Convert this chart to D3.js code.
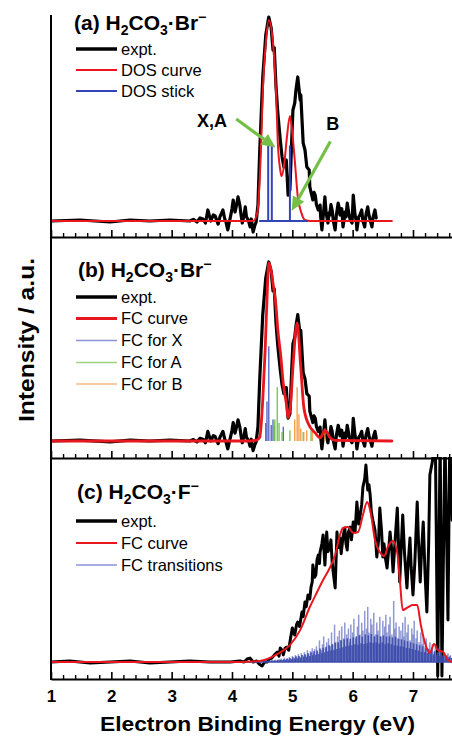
<!DOCTYPE html>
<html><head><meta charset="utf-8">
<script src="https://cdn.jsdelivr.net/npm/d3@7"></script>
<style>
body{margin:0;background:#fff}
svg{display:block}
text{font-family:Arial,"Liberation Sans",Helvetica,sans-serif;fill:#000}
</style>
</head><body>
<svg id="chart" width="452" height="738"></svg>
<script>
// ---------------- DATA ----------------
// (a),(b) experimental spectrum of H2CO3·Br- (normalised intensity)
const exptBr_E = [1.00,1.48,1.98,2.31,2.64,2.97,3.30,3.36,3.42,3.47,3.52,3.56,3.60,3.63,3.65,3.69,3.72,3.75,3.77,3.80,3.82,3.85,3.88,3.90,3.93,3.96,3.98,4.00,4.02,4.05,4.07,4.10,4.13,4.15,4.17,4.20,4.22,4.24,4.27,4.30,4.32,4.35,4.38,4.40,4.43,4.46,4.51,4.56,4.60,4.61,4.65,4.68,4.70,4.73,4.76,4.80,4.83,4.86,4.90,4.93,4.96,4.99,5.01,5.04,5.06,5.09,5.13,5.14,5.18,5.21,5.24,5.28,5.29,5.34,5.36,5.38,5.40,5.43,5.46,5.47,5.49,5.52,5.54,5.56,5.59,5.61,5.62,5.64,5.66,5.68,5.71,5.73,5.76,5.78,5.79,5.82,5.84,5.86,5.87,5.89,5.91,5.94,5.96,5.99,6.01,6.03,6.04,6.06,6.07,6.10,6.12,6.15,6.17,6.20,6.22,6.25,6.27,6.29,6.32,6.34,6.37,6.39];
const exptBr_I = [0,0.005,-0.005,0.005,0,0.005,0,0.008,-0.005,0.015,0.01,-0.01,0.054,0.02,0,0.03,0.025,0,-0.015,0.02,0.034,0.054,0.01,-0.005,-0.044,0,0.029,0.06,0.103,0.044,0.07,0.118,0.078,0.03,-0.01,0.03,0.069,0.02,0.005,-0.029,0.01,-0.054,-0.02,-0.005,0.078,0.348,0.706,0.912,0.985,1.0,0.946,0.838,0.85,0.657,0.529,0.397,0.314,0.265,0.299,0.127,0.152,0.397,0.544,0.578,0.642,0.706,0.593,0.618,0.382,0.348,0.265,0.25,0.167,0.103,0.14,0.127,0.08,0.054,0.078,0.02,-0.044,0.05,0.118,0.04,-0.01,0.04,0.029,0.08,0.054,0,-0.044,0.03,0.088,0.06,0.029,0.06,-0.029,0.01,0.044,0.02,0.088,0.03,0.005,-0.01,0.127,0.06,0.029,0,-0.044,0.02,0.029,0.054,0,-0.029,0.03,0.069,0.03,0.005,-0.029,0.02,0.054,0.015];

// (a) DOS curve and sticks
const dosCurve_E = [1.00,4.35,4.42,4.45,4.48,4.51,4.56,4.61,4.68,4.73,4.76,4.80,4.82,4.86,4.91,4.96,4.99,5.04,5.09,5.15,5.21,5.30,6.65];
const dosCurve_I = [0,0,0.04,0.15,0.35,0.63,0.87,0.985,0.87,0.63,0.38,0.25,0.22,0.265,0.41,0.515,0.46,0.30,0.12,0.04,0.005,0,0];
const dosStick_E = [4.60,4.66,4.96];
const dosStick_I = [0.37,0.37,0.37];
const dosStickRange = [4.45,5.26];

// (b) FC curve and FC sticks
const fcCurveBr_E = [1.00,4.30,4.41,4.46,4.51,4.55,4.58,4.61,4.65,4.68,4.73,4.76,4.81,4.85,4.90,4.93,4.97,5.01,5.08,5.14,5.19,5.26,5.38,5.46,5.54,5.63,5.71,6.65];
const fcCurveBr_I = [0,0,0.005,0.02,0.23,0.51,0.79,0.995,0.95,0.88,0.75,0.62,0.47,0.32,0.21,0.13,0.2,0.41,0.66,0.41,0.19,0.10,0.045,0.017,0.06,0.017,0.003,0];
const fcX_E = [4.56,4.58,4.61,4.65,4.68,4.85];
const fcX_I = [0.10,0.22,0.53,0.09,0.12,0.08];
const fcA_E = [4.70,4.71,4.75,4.78,4.83,4.96,5.18,5.31];
const fcA_I = [0.09,0.12,0.30,0.10,0.05,0.06,0.05,0.06];
const fcB_E = [5.04,5.08,5.11,5.14,5.19,5.24,5.33,5.54];
const fcB_I = [0.12,0.30,0.15,0.07,0.05,0.06,0.05,0.07];

// (c) experimental spectrum of H2CO3·F-
const exptF_E = [1.00,1.31,1.65,1.98,2.31,2.64,2.97,3.30,3.63,3.97,4.13,4.20,4.25,4.30,4.35,4.41,4.45,4.50,4.54,4.58,4.62,4.66,4.70,4.75,4.78,4.80,4.83,4.85,4.88,4.91,4.94,4.97,5.00,5.02,5.04,5.07,5.09,5.12,5.16,5.18,5.21,5.23,5.26,5.29,5.31,5.33,5.34,5.37,5.39,5.41,5.43,5.45,5.46,5.49,5.51,5.54,5.57,5.59,5.62,5.64,5.66,5.68,5.71,5.74,5.76,5.79,5.81,5.84,5.87,5.89,5.91,5.93,5.96,5.98,6.01,6.04,6.07,6.10,6.12,6.15,6.17,6.20,6.22,6.25,6.27,6.29,6.31,6.34,6.37,6.40,6.43,6.45,6.48,6.50,6.52,6.54,6.57,6.60,6.62,6.65,6.67,6.70,6.74,6.76,6.78,6.80,6.83,6.86,6.90,6.92,6.95,6.97,7.00,7.03,7.07,7.09,7.12,7.14,7.17,7.20,7.23,7.26,7.28,7.32,7.37,7.41,7.45,7.48,7.53,7.58,7.61,7.65];
const exptF_I = [0,0.005,-0.005,0,0.005,-0.005,0,0.005,0,0,0.005,0,0.015,0.02,0,0.005,-0.01,-0.02,0,0,0.015,0.02,0.035,0.05,0.03,0.071,0.06,0.036,0.07,0.076,0.06,0.12,0.173,0.15,0.137,0.19,0.203,0.18,0.254,0.23,0.305,0.28,0.34,0.32,0.38,0.406,0.492,0.43,0.442,0.52,0.543,0.5,0.558,0.6,0.645,0.492,0.66,0.56,0.579,0.62,0.508,0.45,0.376,0.66,0.58,0.629,0.55,0.635,0.68,0.6,0.569,0.66,0.685,0.62,0.711,0.66,0.812,0.7,0.736,0.8,0.888,0.93,1.0,0.873,0.9,0.848,0.76,0.711,0.67,0.533,0.62,0.782,0.66,0.533,0.6,0.533,0.477,0.58,0.66,0.56,0.457,0.6,0.782,0.6,0.406,0.55,0.746,0.55,0.376,0.5,0.629,0.48,0.34,0.5,0.812,0.62,0.406,0.55,0.711,0.45,0.254,0.6,0.949,1.015,1.15,-0.071,1.15,-0.071,1.15,0.213,1.15,0.72];

// (c) FC curve
const fcCurveF_E = [1.00,4.13,4.46,4.75,4.96,5.13,5.29,5.41,5.51,5.62,5.71,5.79,5.84,5.92,6.01,6.09,6.17,6.24,6.30,6.37,6.45,6.52,6.59,6.67,6.74,6.78,6.83,6.92,7.00,7.07,7.13,7.20,7.28,7.35,7.41,7.50,7.58,7.65];
const fcCurveF_I = [0,0,0.005,0.04,0.086,0.162,0.279,0.355,0.416,0.477,0.543,0.645,0.68,0.685,0.655,0.66,0.746,0.812,0.756,0.619,0.558,0.538,0.589,0.614,0.553,0.426,0.264,0.279,0.289,0.289,0.188,0.096,0.046,0.091,0.061,0.051,0.01,0];

// (c) FC transitions: prominent (taller) sticks
const fcTransF_E = [4.40,4.43,4.45,4.47,4.50,4.53,4.55,4.58,
4.60,4.62,4.65,4.67,4.70,4.72,4.75,4.78,
4.80,4.82,4.85,4.87,4.90,4.92,4.95,4.97,
5.00,5.03,5.05,5.07,5.10,5.12,5.15,5.18,
5.20,5.22,5.25,5.27,5.30,5.33,5.35,5.37,
5.40,5.42,5.45,5.48,5.50,5.52,5.55,5.57,
5.60,5.63,5.65,5.67,5.70,5.72,5.75,5.78,
5.80,5.82,5.85,5.87,5.90,5.93,5.95,5.97,
6.00,6.02,6.05,6.08,6.10,6.12,6.15,6.17,
6.20,6.23,6.25,6.27,6.30,6.32,6.35,6.38,
6.40,6.42,6.45,6.47,6.50,6.53,6.55,6.57,
6.60,6.62,6.65,6.68,6.70,6.72,6.75,6.77,
6.80,6.83,6.85,6.87,6.90,6.92,6.95,6.98,
7.00,7.02,7.05,7.07,7.10,7.13,7.15,7.17,
7.20,7.22,7.25,7.28,7.30,7.32,7.35,7.37,
7.40,7.43,7.45,7.47,7.50,7.52,7.55,7.58,7.60,7.62,7.65];
const fcTransF_I = [0.002,0.003,0.002,0.004,0.003,0.005,0.004,0.006,
0.005,0.008,0.006,0.01,0.007,0.012,0.009,0.014,
0.012,0.018,0.01,0.022,0.015,0.02,0.026,0.017,
0.03,0.022,0.035,0.028,0.04,0.025,0.045,0.032,
0.05,0.035,0.06,0.042,0.055,0.07,0.045,0.065,
0.08,0.05,0.11,0.06,0.09,0.13,0.07,0.1,
0.12,0.08,0.15,0.09,0.19,0.1,0.13,0.16,
0.11,0.18,0.12,0.2,0.14,0.17,0.1,0.19,
0.15,0.22,0.12,0.18,0.24,0.14,0.2,0.16,
0.26,0.17,0.28,0.15,0.22,0.19,0.25,0.14,
0.2,0.16,0.23,0.13,0.21,0.18,0.24,0.15,
0.19,0.23,0.14,0.31,0.17,0.2,0.12,0.18,
0.16,0.2,0.13,0.23,0.15,0.19,0.11,0.17,
0.14,0.21,0.12,0.16,0.1,0.15,0.09,0.13,
0.08,0.12,0.07,0.1,0.06,0.09,0.05,0.08,
0.05,0.07,0.04,0.06,0.035,0.05,0.03,0.045,0.025,0.035,0.02];
// (c) FC transitions: dense weak sticks between them
const fcTransWeak_E = [4.41,4.44,4.46,4.49,4.51,4.54,4.57,4.59,
4.61,4.64,4.66,4.69,4.71,4.74,4.76,4.79,
4.81,4.84,4.86,4.89,4.91,4.94,4.96,4.99,
5.01,5.04,5.06,5.09,5.11,5.14,5.16,5.19,
5.21,5.24,5.26,5.29,5.31,5.34,5.36,5.39,
5.41,5.44,5.46,5.49,5.51,5.54,5.56,5.59,
5.61,5.64,5.66,5.69,5.71,5.74,5.76,5.79,
5.81,5.84,5.86,5.89,5.91,5.94,5.96,5.99,
6.01,6.04,6.06,6.09,6.11,6.14,6.16,6.19,
6.21,6.24,6.26,6.29,6.31,6.34,6.36,6.39,
6.41,6.44,6.46,6.49,6.51,6.54,6.56,6.59,
6.61,6.64,6.66,6.69,6.71,6.74,6.76,6.79,
6.81,6.84,6.86,6.89,6.91,6.94,6.96,6.99,
7.01,7.04,7.06,7.09,7.11,7.14,7.16,7.19,
7.21,7.24,7.26,7.29,7.31,7.34,7.36,7.39,
7.41,7.44,7.46,7.49,7.51,7.54,7.56,7.59,7.61,7.64];
const fcTransWeak_I = [0.002,0.001,0.003,0.002,0.004,0.003,0.005,0.004,
0.006,0.004,0.008,0.005,0.009,0.006,0.011,0.008,
0.012,0.009,0.015,0.01,0.017,0.012,0.02,0.014,
0.024,0.016,0.028,0.019,0.031,0.022,0.036,0.025,
0.039,0.027,0.044,0.03,0.05,0.034,0.054,0.037,
0.058,0.04,0.068,0.045,0.072,0.05,0.078,0.055,
0.085,0.058,0.09,0.062,0.098,0.066,0.1,0.07,
0.11,0.075,0.115,0.08,0.12,0.082,0.118,0.085,
0.125,0.09,0.13,0.088,0.135,0.095,0.128,0.092,
0.14,0.095,0.135,0.1,0.142,0.098,0.13,0.1,
0.138,0.094,0.13,0.1,0.135,0.09,0.128,0.095,
0.13,0.09,0.125,0.085,0.128,0.083,0.118,0.08,
0.115,0.078,0.11,0.072,0.105,0.07,0.1,0.066,
0.095,0.062,0.09,0.058,0.085,0.052,0.08,0.05,
0.07,0.045,0.065,0.042,0.06,0.038,0.055,0.035,
0.048,0.03,0.042,0.028,0.038,0.025,0.034,0.022,0.028,0.02];

// axis ticks and labels
const majorTicks = [1,2,3,4,5,6,7];
const tickLabels = ["1","2","3","4","5","6","7"];
const minorTicks = [1.2,1.4,1.6,1.8,2.2,2.4,2.6,2.8,3.2,3.4,3.6,3.8,4.2,4.4,4.6,4.8,5.2,5.4,5.6,5.8,6.2,6.4,6.6,6.8,7.2,7.4,7.6];

// legend labels
const legendA = ["expt.","DOS curve","DOS stick"];
const legendB = ["expt.","FC curve","FC for X","FC for A","FC for B"];
const legendC = ["expt.","FC curve","FC transitions"];

// annotations in panel (a)
const annotLabels = ["X,A","B"];
const annotTextE = [3.67,5.67];
const annotTextI = [0.46,0.445];
const annotFrom = [[4.07,0.50],[5.63,0.39]];
const annotTo = [[4.72,0.36],[4.99,0.05]];

// ---------------- DRAWING ----------------
const RED = "#e8171f", BLUE = "#3344b8", GREEN_ARROW = "#74bf45";
const svg = d3.select("#chart");
const x = d3.scaleLinear().domain([1, 7.65]).range([51, 452.2]);

const panels = {
  a: {top: 15, bottom: 237, y: d3.scaleLinear().domain([0,1]).range([221, 17])},
  b: {top: 237, bottom: 458, y: d3.scaleLinear().domain([0,1]).range([441, 262])},
  c: {top: 457, bottom: 679, y: d3.scaleLinear().domain([0,1]).range([662, 465])}
};

const defs = svg.append("defs");
Object.entries(panels).forEach(([k,p]) => {
  defs.append("clipPath").attr("id","clip-"+k).append("rect")
    .attr("x", 51).attr("y", p.top).attr("width", 452-51).attr("height", p.bottom - p.top);
  p.g = svg.append("g").attr("clip-path", "url(#clip-"+k+")");
});

function zip(E, I){ return E.map((e,i)=>[e, I[i]]); }
function line(p, curve){ return d3.line().x(d=>x(d[0])).y(d=>p.y(d[1])).curve(curve || d3.curveLinear); }
function sticks(p, E, I, color, w, op){
  p.g.append("g").selectAll("line").data(zip(E,I)).join("line")
    .attr("x1", d=>x(d[0])).attr("x2", d=>x(d[0]))
    .attr("y1", p.y(0)).attr("y2", d=>p.y(d[1]))
    .attr("stroke", color).attr("stroke-width", w).attr("stroke-opacity", op==null?1:op);
}
function path(p, data, color, w, curve){
  p.g.append("path").datum(data).attr("d", line(p, curve)).attr("fill","none")
    .attr("stroke", color).attr("stroke-width", w).attr("stroke-linejoin","round").attr("stroke-linecap","round");
}

// ----- panel (a)
const A = panels.a;
path(A, zip(exptBr_E, exptBr_I), "#000", 3.2);
path(A, zip(dosCurve_E, dosCurve_I), RED, 2, d3.curveMonotoneX);
A.g.append("line").attr("x1", x(dosStickRange[0])).attr("x2", x(dosStickRange[1]))
  .attr("y1", A.y(0)).attr("y2", A.y(0)).attr("stroke", BLUE).attr("stroke-width", 1.8);
sticks(A, dosStick_E, dosStick_I, BLUE, 2);

// ----- panel (b)
const B = panels.b;
path(B, zip(exptBr_E, exptBr_I), "#000", 3.2);
sticks(B, fcX_E, fcX_I, "#4c5cc4", 1.3);
sticks(B, fcA_E, fcA_I, "#6fc04a", 1.3);
sticks(B, fcB_E, fcB_I, "#f5993a", 1.3);
path(B, zip(fcCurveBr_E, fcCurveBr_I), RED, 2.8, d3.curveMonotoneX);

// ----- panel (c)
const C = panels.c;
path(C, zip(exptF_E, exptF_I), "#000", 3);
C.g.append("line").attr("x1", x(4.05)).attr("x2", x(7.65)).attr("y1", C.y(0)).attr("y2", C.y(0))
  .attr("stroke", "#3d4db0").attr("stroke-width", 1.5);
sticks(C, fcTransF_E, fcTransF_I, "#5563bd", 1.5, 0.65);
sticks(C, fcTransWeak_E, fcTransWeak_I, "#3a49a8", 1.6, 0.9);
path(C, zip(fcCurveF_E, fcCurveF_I), RED, 2, d3.curveMonotoneX);

// ----- axes
Object.entries(panels).forEach(([k,p]) => {
  const ax = d3.axisBottom(x).tickValues(majorTicks).tickSizeInner(-7).tickSizeOuter(0)
    .tickPadding(11).tickFormat((d,i)=> k==="c" ? tickLabels[i] : "");
  const g = svg.append("g").attr("transform", `translate(0,${p.bottom})`).call(ax);
  g.select(".domain").attr("stroke","#000").attr("stroke-width",2);
  g.selectAll(".tick line").attr("stroke","#000").attr("stroke-width",1.6);
  g.selectAll(".tick text").attr("font-size",17).attr("font-weight","bold")
    .attr("font-family","Arial, 'Liberation Sans', sans-serif").attr("fill","#000");
  const axm = d3.axisBottom(x).tickValues(minorTicks).tickSizeInner(-4).tickSizeOuter(0).tickFormat("");
  const gm = svg.append("g").attr("transform", `translate(0,${p.bottom})`).call(axm);
  gm.select(".domain").remove();
  gm.selectAll(".tick line").attr("stroke","#000").attr("stroke-width",1.4);
});
// left axis line
svg.append("line").attr("x1",51).attr("x2",51).attr("y1",15).attr("y2",680)
  .attr("stroke","#000").attr("stroke-width",2);

// ----- titles
function chemTitle(xp, yp, parts){
  const t = svg.append("text").attr("x", xp).attr("y", yp).attr("font-size", 21).attr("font-weight","bold");
  let shift = 0;
  parts.forEach(([s, kind]) => {
    const target = kind==="sub" ? 5 : kind==="sup" ? -8 : 0;
    const ts = t.append("tspan").text(s).attr("dy", target - shift);
    if (kind) ts.attr("font-size", 14);
    shift = target;
  });
}
chemTitle(74, 30, [["(a) H"],["2","sub"],["CO"],["3","sub"],["·Br"],["\u2212","sup"]]);
chemTitle(78, 277, [["(b) H"],["2","sub"],["CO"],["3","sub"],["·Br"],["\u2212","sup"]]);
chemTitle(77, 499, [["(c) H"],["2","sub"],["CO"],["3","sub"],["·F"],["\u2212","sup"]]);

// ----- legends
function legend(labels, rows, styles){
  labels.forEach((lab, i) => {
    const yy = rows[i];
    svg.append("line").attr("x1",76).attr("x2",117).attr("y1",yy).attr("y2",yy)
      .attr("stroke", styles[i][0]).attr("stroke-width", styles[i][1]);
    svg.append("text").attr("x",121).attr("y",yy).attr("dy","0.35em").attr("font-size",16.5).text(lab);
  });
}
legend(legendA, [49,70,91], [["#000",3.5],[RED,2],[BLUE,2]]);
legend(legendB, [297,318.5,340.5,362.5,384], [["#000",3.5],[RED,2.8],["#8a93d8",1.3],["#9cd47f",1.3],["#f7bd86",1.3]]);
legend(legendC, [521,543,565], [["#000",3.5],[RED,2],["#8a93d8",1.5]]);

// ----- annotations (a)
annotLabels.forEach((lab,i) => {
  svg.append("text").attr("x", x(annotTextE[i])).attr("y", A.y(annotTextI[i]))
    .attr("text-anchor","middle").attr("font-size",18).attr("font-weight","bold").text(lab);
  const x1 = x(annotFrom[i][0]), y1 = A.y(annotFrom[i][1]);
  const x2 = x(annotTo[i][0]), y2 = A.y(annotTo[i][1]);
  const ang = Math.atan2(y2-y1, x2-x1), L = 14, W = 6.5;
  const bx = x2 - L*Math.cos(ang), by = y2 - L*Math.sin(ang);
  svg.append("line").attr("x1",x1).attr("y1",y1).attr("x2",bx).attr("y2",by)
    .attr("stroke",GREEN_ARROW).attr("stroke-width",3.2);
  svg.append("polygon").attr("fill",GREEN_ARROW).attr("points", [
    [x2,y2],
    [bx + W*Math.sin(ang), by - W*Math.cos(ang)],
    [bx - W*Math.sin(ang), by + W*Math.cos(ang)]
  ].map(p=>p.join(",")).join(" "));
});

// ----- axis titles
svg.append("text").attr("transform","translate(34,340) rotate(-90)").attr("text-anchor","middle")
  .attr("font-size",22).attr("font-weight","bold").attr("textLength",164).attr("lengthAdjust","spacingAndGlyphs")
  .text("Intensity / a.u.");
svg.append("text").attr("x",257.5).attr("y",731).attr("text-anchor","middle")
  .attr("font-size",21).attr("font-weight","bold").attr("textLength",315).attr("lengthAdjust","spacingAndGlyphs")
  .text("Electron Binding Energy (eV)");
</script>
</body></html>
